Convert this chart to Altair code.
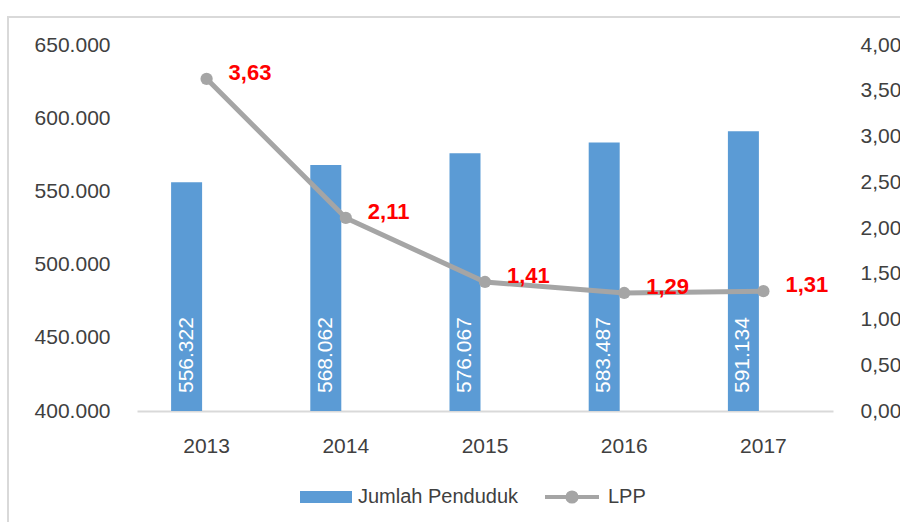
import altair as alt
import pandas as pd

years = ["2013", "2014", "2015", "2016", "2017"]
penduduk = [556322, 568062, 576067, 583487, 591134]
lpp = [3.63, 2.11, 1.41, 1.29, 1.31]
left_ticks = [400000, 450000, 500000, 550000, 600000, 650000]
right_ticks = [0, 0.5, 1, 1.5, 2, 2.5, 3, 3.5, 4]

FONT = "Liberation Sans"
LABEL_C = "#404040"

df = pd.DataFrame({"Tahun": years, "Penduduk": penduduk, "LPP": lpp})

x_enc = alt.X(
    "Tahun:N",
    scale=alt.Scale(paddingInner=0, paddingOuter=0),
    axis=alt.Axis(title=None, labelAngle=0, ticks=False, domainColor="#D9D9D9",
                  domainWidth=2, labelPadding=24, labelFontSize=21,
                  labelColor=LABEL_C, labelFont=FONT),
)

base = alt.Chart(df).encode(x=x_enc)

y_left = alt.Y(
    "Penduduk:Q",
    scale=alt.Scale(domain=[400000, 650000], nice=False, zero=False),
    axis=alt.Axis(title=None, values=left_ticks, grid=False, domain=False, ticks=False,
                  labelPadding=27, labelFontSize=21, labelColor=LABEL_C, labelFont=FONT,
                  labelExpr="replace(format(datum.value, ','), ',', '.')"),
)

bars = base.transform_calculate(s="'Jumlah Penduduk'").mark_bar(size=31, xOffset=-20).encode(
    y=y_left,
    y2=alt.datum(400000),
    color=alt.Color("s:N", scale=alt.Scale(domain=["Jumlah Penduduk"], range=["#5B9BD5"]),
                    legend=alt.Legend(title=None, orient="none", legendX=163, legendY=426,
                                      symbolType="M-1,-0.23H1V0.23H-1Z", symbolSize=2704,
                                      symbolStrokeWidth=0, labelFontSize=20, labelFont=FONT,
                                      labelColor=LABEL_C, labelOffset=6, labelLimit=400)),
)

bar_labels = base.transform_calculate(
    lbl="replace(format(datum.Penduduk, ','), ',', '.')"
).mark_text(angle=270, align="left", baseline="middle", dx=18, xOffset=-20,
            color="white", fontSize=21, font=FONT).encode(
    y=alt.datum(400000),
    text="lbl:N",
)

left = alt.layer(bars, bar_labels)

y_right = alt.Y(
    "LPP:Q",
    scale=alt.Scale(domain=[0, 4], nice=False),
    axis=alt.Axis(title=None, orient="right", values=right_ticks, grid=False, domain=False,
                  ticks=False, labelPadding=27, labelFontSize=21, labelColor=LABEL_C,
                  labelFont=FONT,
                  labelExpr="replace(format(datum.value, '.2f'), '.', ',')"),
)

line = base.transform_calculate(s2="'LPP'").mark_line(strokeWidth=5).encode(
    y=y_right,
    stroke=alt.Stroke("s2:N", scale=alt.Scale(domain=["LPP"], range=["#A5A5A5"]),
                      legend=alt.Legend(title=None, orient="none", legendX=406, legendY=423,
                                        symbolType="M-1,0H1M0.17,0A0.17,0.17 0 1,1 -0.17,0A0.17,0.17 0 1,1 0.17,0",
                                        symbolSize=2916, symbolStrokeWidth=4,
                                        symbolFillColor="#A5A5A5", labelFontSize=20,
                                        labelFont=FONT, labelColor=LABEL_C, labelOffset=7,
                                        labelLimit=400)),
)

points = base.mark_point(filled=True, size=150, color="#A5A5A5", opacity=1).encode(y=y_right)

lpp_labels = base.transform_calculate(
    lbl="replace(format(datum.LPP, '.2f'), '.', ',')"
).mark_text(align="left", baseline="middle", dx=22, dy=-6, color="#FF0000",
            fontWeight="bold", fontSize=22, font=FONT).encode(
    y=y_right,
    text="lbl:N",
)

right = alt.layer(line, points, lpp_labels)

frame = alt.Chart(pd.DataFrame({"k": [0]})).mark_rect(
    fill="transparent", stroke="#D9D9D9", strokeWidth=2
).encode(
    x=alt.value(-129), x2=alt.value(1000), y=alt.value(-28), y2=alt.value(1000)
)

chart = alt.layer(frame, left, right).resolve_scale(y="independent").properties(
    width=696,
    height=366,
    padding={"left": 137, "top": 45, "right": 67, "bottom": 111},
    autosize=alt.AutoSizeParams(type="none"),
    background="white",
).configure_view(strokeWidth=0)

chart.save("out.html", embed_options={"renderer": "svg", "actions": False})
